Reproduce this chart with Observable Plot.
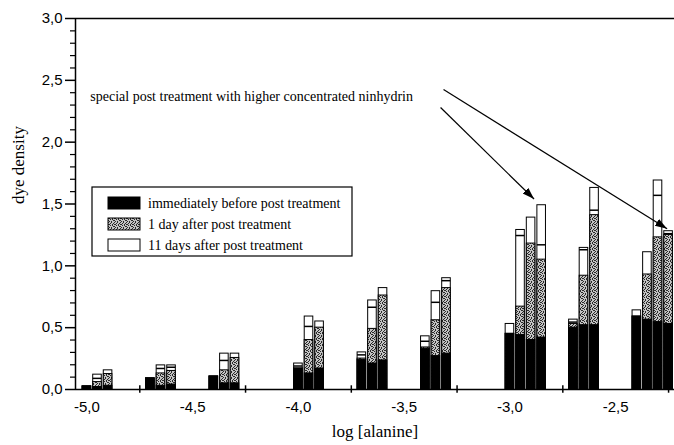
<!DOCTYPE html>
<html><head><meta charset="utf-8">
<script src="https://cdn.jsdelivr.net/npm/d3@7"></script>
<script src="https://cdn.jsdelivr.net/npm/@observablehq/plot@0.6"></script>
<style>body{margin:0;background:#fff;} #chart{position:relative;width:674px;height:445px;}</style>
</head><body><div id="chart"></div>
<script>
// log10 of alanine concentration for each bar group (1, 2, 4 x 10^n)
const logConc = [-5.0, -4.7, -4.4, -4.0, -3.7, -3.4, -3.0, -2.7, -2.4];
// dye density per bar in each group
const beforeTreatment = [
  [0.025, 0.02, 0.03],
  [0.09, 0.03, 0.04],
  [0.105, 0.05, 0.05],
  [0.17, 0.13, 0.17],
  [0.24, 0.21, 0.235],
  [0.33, 0.27, 0.29],
  [0.45, 0.44, 0.40, 0.42],
  [0.50, 0.52, 0.52],
  [0.59, 0.565, 0.545, 0.53]
];
const oneDayAfter = [
  [0.025, 0.06, 0.125],
  [0.09, 0.13, 0.15],
  [0.105, 0.155, 0.255],
  [0.17, 0.40, 0.50],
  [0.25, 0.49, 0.76],
  [0.34, 0.56, 0.82],
  [0.45, 0.67, 1.18, 1.05],
  [0.53, 0.92, 1.41],
  [0.59, 0.93, 1.23, 1.25]
];
const elevenDaysAfter = [
  [0.025, 0.12, 0.155],
  [0.09, 0.195, 0.195],
  [0.105, 0.29, 0.29],
  [0.21, 0.59, 0.55],
  [0.30, 0.72, 0.82],
  [0.43, 0.795, 0.90],
  [0.53, 1.29, 1.39, 1.49],
  [0.565, 1.145, 1.63],
  [0.64, 1.11, 1.69, 1.28]
];
// thin separating line seen inside some bars
const innerLine = [
  [null, 0.09, null],
  [null, 0.17, 0.18],
  [null, 0.235, null],
  [0.19, 0.51, null],
  [0.28, 0.665, null],
  [0.39, 0.705, 0.88],
  [null, 1.245, null, 1.17],
  [0.545, 1.13, 1.45],
  [null, null, 1.57, 1.26]
];
const xLabelValues = [-5.0, -4.5, -4.0, -3.5, -3.0, -2.5];
const xTickValues = [-4.75, -4.25, -3.75, -3.25, -2.75, -2.25];
const yMajorTicks = [0, 0.5, 1.0, 1.5, 2.0, 2.5, 3.0];
const yMinorTicks = d3.range(0, 31).map(i => i / 10).filter(v => Math.abs(v * 2 - Math.round(v * 2)) > 1e-6);
const legendLabels = ["immediately before post treatment", "1 day after post treatment", "11 days after post treatment"];
const annotationText = "special post treatment with higher concentrated ninhydrin";
const annotationAnchor = [{x: -4.984, y: 2.37}];
const arrows = [
  {x1: -3.314, y1: 2.425, x2: -2.257, y2: 1.30},
  {x1: -3.328, y1: 2.28, x2: -2.886, y2: 1.54}
];

const slot = 0.05; // bar pitch within a group (log units)
const bars = logConc.flatMap((c, g) => beforeTreatment[g].map((b, k) => ({
  x1: c + k * slot - slot / 2,
  x2: c + k * slot + slot / 2,
  before: b,
  oneDay: oneDayAfter[g][k],
  eleven: elevenDaysAfter[g][k],
  line: innerLine[g][k]
})));

const fmt = d => d.toFixed(1).replace(".", ",");
const xDomain = [-5.054, -2.222];
const serif = "'Liberation Serif', 'Times New Roman', serif";

const plot = Plot.plot({
  width: 674, height: 445,
  marginLeft: 75, marginRight: 0, marginTop: 18, marginBottom: 56,
  x: {domain: xDomain, label: null},
  y: {domain: [0, 3], label: null},
  style: {fontFamily: "'Liberation Sans', Arial, sans-serif", fontSize: "15px", background: "white", color: "black"},
  marks: [
    Plot.rect(bars, {x1: "x1", x2: "x2", y1: 0, y2: "eleven", fill: "white", stroke: "black", strokeWidth: 1, insetLeft: 1, insetRight: 1}),
    Plot.rect(bars, {x1: "x1", x2: "x2", y1: 0, y2: "oneDay", fill: "url(#stipple)", stroke: "black", strokeWidth: 1, insetLeft: 1, insetRight: 1}),
    Plot.rect(bars, {x1: "x1", x2: "x2", y1: 0, y2: "before", fill: "black", stroke: "black", strokeWidth: 1, insetLeft: 1, insetRight: 1}),
    Plot.ruleY(bars.filter(d => d.line != null), {y: "line", x1: "x1", x2: "x2", stroke: "black", strokeWidth: 1.5, insetLeft: 1, insetRight: 1}),
    Plot.ruleY([0, 3], {stroke: "black", strokeWidth: 1.5}),
    Plot.ruleX([xDomain[0]], {stroke: "black", strokeWidth: 1.5}),
    Plot.ruleX(xTickValues, {y1: -0.03, y2: 0.03, stroke: "black", strokeWidth: 1.5}),
    Plot.axisY(yMajorTicks, {tickSize: 10, tickPadding: 3, tickFormat: fmt, label: null, strokeWidth: 1.5}),
    Plot.axisY(yMinorTicks, {tickSize: 5, tickFormat: () => "", label: null, strokeWidth: 1.2}),
    Plot.axisX(xLabelValues, {tickSize: 0, tickPadding: 12, tickFormat: fmt, label: null}),
    Plot.text(["log [alanine]"], {frameAnchor: "bottom", dy: 47, fontFamily: serif, fontSize: 17}),
    Plot.text(["dye density"], {frameAnchor: "left", dx: -57, rotate: -90, fontFamily: serif, fontSize: 17}),
    Plot.text(annotationAnchor, {x: "x", y: "y", text: () => annotationText, textAnchor: "start", fontFamily: serif, fontSize: 14}),
    Plot.link(arrows, {x1: "x1", y1: "y1", x2: "x2", y2: "y2", stroke: "black", strokeWidth: 1.2})
  ]
});

const svg = d3.select(plot);
const defs = svg.insert("defs", ":first-child");
const pat = defs.append("pattern").attr("id", "stipple").attr("patternUnits", "userSpaceOnUse")
  .attr("width", 6).attr("height", 6);
pat.append("rect").attr("width", 6).attr("height", 6).attr("fill", "#c4c4c4");
[[0,0],[3,0],[5,1],[1,2],[4,2],[2,3],[0,4],[5,4],[3,5],[1,5],[2,1],[4,3],[0,2]].forEach(([px, py]) =>
  pat.append("rect").attr("x", px).attr("y", py).attr("width", 1).attr("height", 1).attr("fill", "#2a2a2a"));
defs.append("marker").attr("id", "ahead").attr("viewBox", "0 -5 12 10")
  .attr("refX", 12).attr("refY", 0).attr("markerUnits", "userSpaceOnUse")
  .attr("markerWidth", 12).attr("markerHeight", 10).attr("orient", "auto")
  .append("path").attr("d", "M0,-4L12,0L0,4Z").attr("fill", "black");
svg.selectAll('g[aria-label="link"] path').attr("marker-end", "url(#ahead)");

// legend box
const lg = svg.append("g").attr("font-family", serif).attr("font-size", 14).attr("text-anchor", "start");
lg.append("rect").attr("x", 92).attr("y", 187).attr("width", 260).attr("height", 69)
  .attr("fill", "white").attr("stroke", "black").attr("stroke-width", 1.2);
const legendFills = ["black", "url(#stipple)", "white"];
legendLabels.forEach((t, i) => {
  const cy = 203 + i * 21;
  lg.append("rect").attr("x", 108).attr("y", cy - 6).attr("width", 32).attr("height", 12)
    .attr("fill", legendFills[i]).attr("stroke", "black");
  lg.append("text").attr("x", 148).attr("y", cy).attr("dy", "0.35em").attr("text-anchor", "start").text(t);
});

document.getElementById("chart").appendChild(plot);
</script>
</body></html>
